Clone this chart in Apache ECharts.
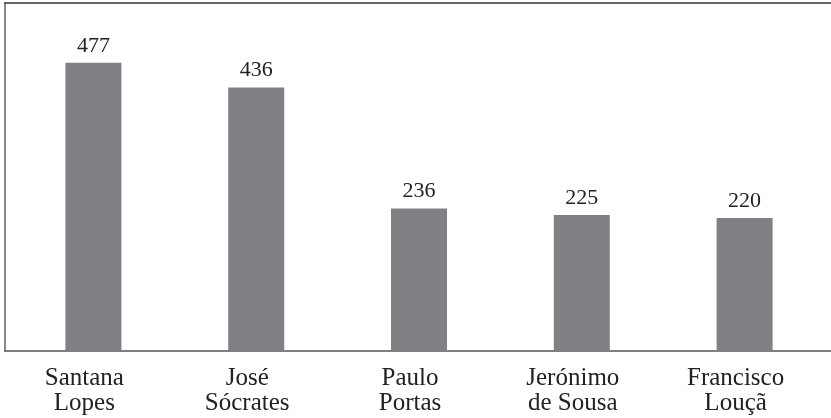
<!DOCTYPE html>
<html>
<head>
<meta charset="utf-8">
<script src="https://cdn.jsdelivr.net/npm/echarts@6/dist/echarts.min.js"></script>
<style>
html,body{margin:0;padding:0;background:#fff;}
#chart{width:831px;height:418px;}
</style>
</head>
<body>
<div id="chart"></div>
<script>
const categories = ["Santana\nLopes", "José\nSócrates", "Paulo\nPortas", "Jerónimo\nde Sousa", "Francisco\nLouçã"];
const values = [477, 436, 236, 225, 220];

const chart = echarts.init(document.getElementById('chart'), null, {renderer: 'canvas'});
const FONT = 'Liberation Serif';
chart.setOption({
  animation: false,
  backgroundColor: '#ffffff',
  grid: [
    {left: 12, right: 5, top: 3, bottom: 67, containLabel: false},
    {left: 5, right: 0, top: 3, bottom: 67, containLabel: false}
  ],
  xAxis: [{
    type: 'category',
    gridIndex: 0,
    data: categories,
    position: 'bottom',
    axisLine: {show: false},
    axisTick: {show: false},
    axisLabel: {color: '#222', fontFamily: FONT, fontSize: 25, lineHeight: 25, margin: 15, interval: 0, padding: [0, 18, 0, 0]}
  }, {
    type: 'value',
    gridIndex: 1,
    position: 'bottom',
    min: 0, max: 1,
    axisLine: {show: true, onZero: false, lineStyle: {color: '#555', width: 1.5}},
    axisTick: {show: false},
    axisLabel: {show: false},
    splitLine: {show: false}
  }, {
    type: 'value',
    gridIndex: 1,
    position: 'top',
    min: 0, max: 1,
    axisLine: {show: true, onZero: false, lineStyle: {color: '#333', width: 1.5}},
    axisTick: {show: false},
    axisLabel: {show: false},
    splitLine: {show: false}
  }],
  yAxis: [{
    type: 'value',
    gridIndex: 0,
    min: 0,
    max: 576,
    show: false,
    splitLine: {show: false}
  }, {
    type: 'value',
    gridIndex: 1,
    min: 0, max: 1,
    axisLine: {show: true, onZero: false, lineStyle: {color: '#888', width: 2}},
    axisTick: {show: false},
    axisLabel: {show: false},
    splitLine: {show: false}
  }],
  series: [{
    type: 'bar',
    xAxisIndex: 0,
    yAxisIndex: 0,
    data: values,
    barWidth: 56,
    itemStyle: {color: '#808184'},
    label: {show: true, position: 'top', distance: 6, color: '#222', fontFamily: FONT, fontSize: 22}
  }]
});
</script>
</body>
</html>
